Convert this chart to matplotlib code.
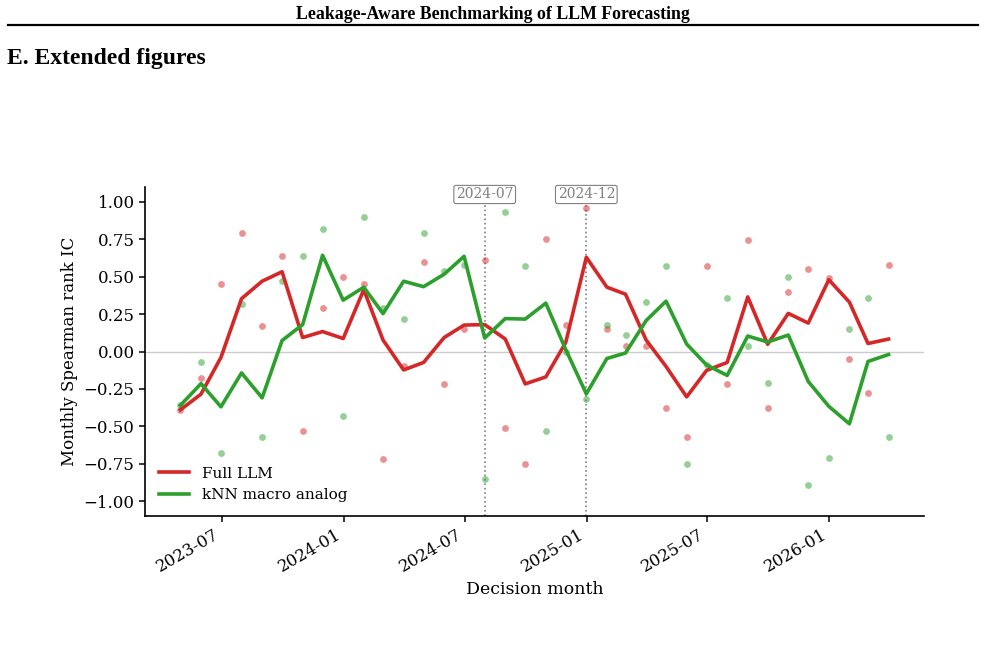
import numpy as np
import pandas as pd
import matplotlib
matplotlib.use("Agg")
import matplotlib.pyplot as plt
import matplotlib.dates as mdates
from matplotlib.lines import Line2D
from matplotlib.ticker import MultipleLocator

# monthly decision dates (month end), Apr 2023 .. Mar 2026
months = pd.date_range("2023-04-30", "2026-03-31", freq="ME")

# monthly Spearman rank IC (dots)
full_llm_ic = [-0.39, -0.18, 0.45, 0.79, 0.17, 0.64, -0.53, 0.29, 0.50, 0.45,
               -0.72, -0.10, 0.60, -0.22, 0.15, 0.61, -0.51, -0.75, 0.75, 0.18,
               0.96, 0.15, 0.04, 0.04, -0.38, -0.57, 0.57, -0.22, 0.745, -0.38,
               0.40, 0.55, 0.49, -0.05, -0.28, 0.58]
knn_ic = [-0.36, -0.07, -0.68, 0.32, -0.57, 0.47, 0.64, 0.82, -0.43, 0.90,
          0.29, 0.22, 0.79, 0.54, 0.58, -0.85, 0.93, 0.57, -0.53, 0.00,
          -0.32, 0.18, 0.11, 0.33, 0.57, -0.75, -0.09, 0.36, 0.04, -0.21,
          0.50, -0.89, -0.71, 0.15, 0.36, -0.57]

# marked cutoffs
cutoffs = ["2024-07-31", "2024-12-31"]
cutoff_labels = ["2024-07", "2024-12"]

series = [("Full LLM", full_llm_ic, "#d62728"),
          ("kNN macro analog", knn_ic, "#2ca02c")]

fig = plt.figure(figsize=(9.85, 6.58), dpi=100)

# page header
fig.text(0.5, 1 - 19 / 658, "Leakage-Aware Benchmarking of LLM Forecasting",
         ha="center", va="baseline", fontsize=12.8, fontweight="bold",
         family="Liberation Serif")
fig.add_artist(Line2D([8 / 985, 978 / 985], [1 - 25 / 658] * 2,
                      color="black", lw=1.6))
fig.text(7 / 985, 1 - 64 / 658, "E. Extended figures", ha="left",
         va="baseline", fontsize=17, fontweight="bold",
         family="Liberation Serif")

ax = fig.add_axes([145 / 985, 1 - 516 / 658, 779 / 985, 329 / 658])
plt.rcParams["font.family"] = "DejaVu Serif"

ax.axhline(0, color="#cccccc", lw=1, zorder=0)
for name, vals, col in series:
    s = pd.Series(vals, index=months)
    ax.scatter(months, s.values, s=24, color=col, alpha=0.5, linewidths=0,
               zorder=2)
    # line = 3-month rolling mean of the monthly IC
    ax.plot(months, s.rolling(3, min_periods=1).mean().values, color=col,
            lw=2.6, label=name, zorder=3)

for d, lab in zip(cutoffs, cutoff_labels):
    d = pd.Timestamp(d)
    ax.axvline(d, color="gray", ls=":", lw=1.2, zorder=1)
    ax.text(d, 1.05, lab, ha="center", va="center", fontsize=10,
            color="gray", family="DejaVu Serif",
            bbox=dict(boxstyle="round,pad=0.15", fc="white", ec="gray",
                      lw=0.8))

ax.set_ylim(-1.1, 1.1)
ax.yaxis.set_major_locator(MultipleLocator(0.25))
ax.xaxis.set_major_locator(mdates.MonthLocator(bymonth=[1, 7]))
ax.xaxis.set_major_formatter(mdates.DateFormatter("%Y-%m"))
for lab in ax.get_xticklabels():
    lab.set_rotation(30)
    lab.set_ha("right")

ax.spines["top"].set_visible(False)
ax.spines["right"].set_visible(False)
for sp in ("left", "bottom"):
    ax.spines[sp].set_linewidth(1.2)
ax.tick_params(labelsize=12, width=1.1, length=4)
for lab in ax.get_xticklabels() + ax.get_yticklabels():
    lab.set_family("DejaVu Serif")

ax.set_xlabel("Decision month", fontsize=12.5, family="DejaVu Serif")
ax.set_ylabel("Monthly Spearman rank IC", fontsize=12,
              family="DejaVu Serif")
ax.legend(loc="lower left", frameon=False, prop={"family": "DejaVu Serif",
                                                  "size": 11})

fig.savefig("out.png", dpi=100)
